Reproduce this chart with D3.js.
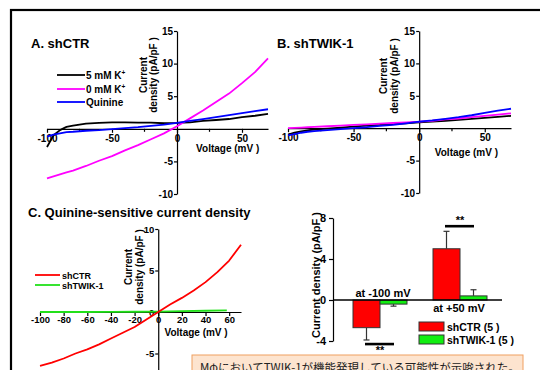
<!DOCTYPE html>
<html>
<head>
<meta charset="utf-8">
<script src="https://cdn.jsdelivr.net/npm/d3@7"></script>
<style>
body { margin: 0; background: #fff; }
svg { display: block; font-family: "Liberation Sans", Arial, sans-serif; }
</style>
</head>
<body>
<script>
// ---- data ----
const volts = [-100, -95, -90, -85, -80, -70, -60, -50, -40, -30, -20, -10, 0, 10, 20, 30, 40, 50, 60, 70];

// A. shCTR (pA/pF)
const ctr5K      = [-2.8, -1.0, -0.2, 0.3, 0.5, 0.8, 0.9, 1.0, 1.0, 0.95, 0.95, 0.85, 0.9, 1.0, 1.2, 1.35, 1.5, 1.8, 2.0, 2.3];
const ctr0K      = [-7.6, -7.3, -7.0, -6.7, -6.4, -5.7, -4.9, -4.2, -3.3, -2.5, -1.6, -0.7, 0.4, 1.6, 2.8, 4.1, 5.4, 7.0, 8.7, 10.8];
const ctrQuinine = [-1.2, -0.9, -0.7, -0.5, -0.45, -0.3, -0.2, -0.05, 0.1, 0.25, 0.45, 0.65, 0.9, 1.2, 1.5, 1.8, 2.1, 2.4, 2.7, 3.0];

// B. shTWIK-1
const twik5K      = [-1.0, -0.7, -0.5, -0.35, -0.2, -0.05, 0.1, 0.25, 0.4, 0.5, 0.65, 0.75, 0.9, 1.0, 1.15, 1.3, 1.45, 1.6, 1.75, 1.9];
const twik0K      = [0.0, 0.05, 0.1, 0.15, 0.2, 0.3, 0.4, 0.5, 0.6, 0.7, 0.8, 0.9, 1.0, 1.15, 1.35, 1.5, 1.7, 1.9, 2.1, 2.3];
const twikQuinine = [-1.1, -0.9, -0.7, -0.55, -0.45, -0.3, -0.15, 0.0, 0.15, 0.35, 0.5, 0.75, 1.0, 1.2, 1.45, 1.7, 2.0, 2.35, 2.7, 3.0];

// C. Quinine-sensitive current density
const voltsC   = [-100, -90, -80, -70, -60, -50, -40, -30, -20, -10, 0, 10, 20, 30, 40, 50, 60, 70];
const sensCTR  = [-6.5, -6.1, -5.6, -5.0, -4.5, -3.9, -3.2, -2.5, -1.8, -0.9, 0.0, 0.9, 1.7, 2.6, 3.6, 4.8, 6.2, 8.1];
const voltsC2  = [-100, -80, -60, -40, -20, 0, 20, 40, 58];
const sensTWIK = [0.0, 0.0, 0.0, 0.02, 0.03, 0.05, 0.1, 0.15, 0.2];

// D. bar chart
const barGroups = ["at -100 mV", "at +50 mV"];
const barSeries = ["shCTR (5 )", "shTWIK-1 (5 )"];
const barMeans  = [[-2.7, -0.4], [5.0, 0.4]];
const barErrors = [[1.2, 0.2], [1.7, 0.6]];
const sigLevels = [-4.3, 7.2];

const ivTicksAB = [-100, -50, 0, 50];
const ivMinorAB = [-75, -25, 25];
const ivYTicksAB = [-10, -5, 5, 10, 15];
const ivTicksC = [-100, -80, -60, -40, -20, 0, 20, 40, 60];
const ivYTicksC = [-5, 0, 5, 10];
const barYTicks = [-4, 0, 4, 8];

const svg = d3.select("body").append("svg")
	.attr("width", 540)
	.attr("height", 370);

// outer frame
svg.append("rect")
	.attr("x", 11).attr("y", 10)
	.attr("width", 600).attr("height", 400)
	.attr("fill", "none").attr("stroke", "#000").attr("stroke-width", 2.2);

// plain hyphen minus like the original figure
const fmt = d => String(d);

function styleAxis(g, size) {
	g.attr("font-family", "Liberation Sans, Arial, sans-serif")
	 .attr("font-weight", "bold")
	 .attr("font-size", size);
	g.selectAll("path, line").attr("stroke", "#000").attr("stroke-width", 1.2);
}

function ivPanel(p) {
	let x = d3.scaleLinear().domain([-100, 70]).range(p.xr);
	let y = d3.scaleLinear().domain(p.yd).range(p.yr);
	let g = svg.append("g");

	// x axis through y = 0
	let ax = g.append("g")
		.attr("transform", `translate(0,${y(0)})`)
		.call(d3.axisBottom(x).tickValues(p.xticks).tickFormat(fmt).tickSize(4).tickPadding(p.xpad).tickSizeOuter(0));
	styleAxis(ax, p.fs);
	if (p.minor) {
		ax.selectAll(".minor").data(p.minor).enter().append("line")
			.attr("x1", d => x(d)).attr("x2", d => x(d))
			.attr("y1", 0).attr("y2", 3)
			.attr("stroke", "#000").attr("stroke-width", 1.2);
	}

	// y axis through x = 0
	let ay = g.append("g")
		.attr("transform", `translate(${x(0)},0)`)
		.call(d3.axisLeft(y).tickValues(p.yticks).tickFormat(fmt).tickSize(3).tickPadding(1).tickSizeOuter(0));
	styleAxis(ay, p.fs);

	// axis titles
	let cy = p.labelY;
	g.append("text")
		.attr("transform", `translate(${x(0) - p.labelDx[0]},${cy}) rotate(-90)`)
		.attr("text-anchor", "middle").attr("font-weight", "bold").attr("font-size", 10)
		.text("Current");
	g.append("text")
		.attr("transform", `translate(${x(0) - p.labelDx[1]},${cy}) rotate(-90)`)
		.attr("text-anchor", "middle").attr("font-weight", "bold").attr("font-size", 10)
		.text("density (pA/pF )");
	g.append("text")
		.attr("x", x(p.voltLabel[0])).attr("y", y(0) + p.voltLabel[1])
		.attr("text-anchor", "middle").attr("font-weight", "bold").attr("font-size", 10)
		.text("Voltage (mV )");

	// traces
	let line = d3.line().x(d => x(d[0])).y(d => y(d[1]));
	p.series.forEach(function(s) {
		g.append("path")
			.datum(d3.zip(s.v, s.i))
			.attr("d", line)
			.attr("fill", "none")
			.attr("stroke", s.color)
			.attr("stroke-width", 1.8)
			.attr("stroke-linejoin", "round");
	});

	// title
	g.append("text")
		.attr("x", p.title[1]).attr("y", p.title[2])
		.attr("font-weight", "bold").attr("font-size", 13)
		.text(p.title[0]);
	return g;
}

// Panel A
ivPanel({
	xr: [47, 268], yd: [-10, 15], yr: [194, 31],
	xticks: ivTicksAB, minor: ivMinorAB, yticks: ivYTicksAB, xpad: 2, fs: 10,
	labelY: 75, labelDx: [30, 20], voltLabel: [39, 23],
	title: ["A. shCTR", 31, 48],
	series: [
		{v: volts, i: ctr5K, color: "#000"},
		{v: volts, i: ctr0K, color: "#ff00ff"},
		{v: volts, i: ctrQuinine, color: "#0000ff"}
	]
});

// Panel B
ivPanel({
	xr: [288, 511], yd: [-10, 15], yr: [193, 31],
	xticks: ivTicksAB, minor: ivMinorAB, yticks: ivYTicksAB, xpad: 2, fs: 10,
	labelY: 76, labelDx: [32, 21], voltLabel: [36, 28],
	title: ["B. shTWIK-1", 277, 48],
	series: [
		{v: volts, i: twik5K, color: "#000"},
		{v: volts, i: twik0K, color: "#ff00ff"},
		{v: volts, i: twikQuinine, color: "#0000ff"}
	]
});

// Panel C
ivPanel({
	xr: [40, 241], yd: [-10, 10], yr: [395, 229],
	xticks: ivTicksC, minor: null, yticks: ivYTicksC, xpad: 0, fs: 9.5,
	labelY: 267, labelDx: [26, 15], voltLabel: [32, 24],
	title: ["C. Quinine-sensitive current density", 28, 217],
	series: [
		{v: voltsC2, i: sensTWIK, color: "#22e01a"},
		{v: voltsC, i: sensCTR, color: "#ff0000"}
	]
});

// legend A
const legA = [["5 mM K", "#000", 75], ["0 mM K", "#ff00ff", 89], ["Quinine", "#0000ff", 102]];
legA.forEach(function(d) {
	svg.append("line").attr("x1", 57).attr("x2", 85).attr("y1", d[2]).attr("y2", d[2])
		.attr("stroke", d[1]).attr("stroke-width", 1.8);
	let t = svg.append("text").attr("x", 86).attr("y", d[2] + 4)
		.attr("font-weight", "bold").attr("font-size", 10).text(d[0]);
	if (d[0] !== "Quinine")
		t.append("tspan").attr("font-size", 6.5).attr("dy", -4).text("+");
});

// legend C
const legC = [["shCTR", "#ff0000", 275], ["shTWIK-1", "#22e01a", 285]];
legC.forEach(function(d) {
	svg.append("line").attr("x1", 35).attr("x2", 60).attr("y1", d[2]).attr("y2", d[2])
		.attr("stroke", d[1]).attr("stroke-width", 1.8);
	svg.append("text").attr("x", 62).attr("y", d[2] + 3.5)
		.attr("font-weight", "bold").attr("font-size", 9).text(d[0]);
});

// ---- Panel D: bar chart ----
const bx = d3.scaleBand().domain(barGroups).range([340, 500]).paddingInner(0.325).paddingOuter(0.1625);
const bs = d3.scaleBand().domain(barSeries).range([0, bx.bandwidth()]);
const by = d3.scaleLinear().domain([-4, 8]).range([341, 218]);
const barColors = d3.scaleOrdinal().domain(barSeries).range(["#ff0000", "#11ee11"]);

const gd = svg.append("g");
const ayD = gd.append("g")
	.attr("transform", `translate(333,0)`)
	.call(d3.axisLeft(by).tickValues(barYTicks).tickFormat(fmt).tickSize(4).tickPadding(3).tickSizeOuter(0));
styleAxis(ayD, 11);

gd.append("text")
	.attr("transform", `translate(320,275) rotate(-90)`)
	.attr("text-anchor", "middle").attr("font-weight", "bold").attr("font-size", 11)
	.text("Current  density (pA/pF )");

const barData = [];
barGroups.forEach(function(gname, gi) {
	barSeries.forEach(function(sname, si) {
		barData.push({g: gname, s: sname, v: barMeans[gi][si], e: barErrors[gi][si]});
	});
});

// error whiskers (outward only)
barData.forEach(function(d) {
	let cx = bx(d.g) + bs(d.s) + bs.bandwidth() / 2;
	let end = d.v >= 0 ? d.v + d.e : d.v - d.e;
	gd.append("line").attr("x1", cx).attr("x2", cx).attr("y1", by(d.v)).attr("y2", by(end))
		.attr("stroke", "#333").attr("stroke-width", 1.2);
	gd.append("line").attr("x1", cx - 3).attr("x2", cx + 3).attr("y1", by(end)).attr("y2", by(end))
		.attr("stroke", "#333").attr("stroke-width", 1.2);
});

gd.selectAll("rect.bar")
	.data(barData)
	.enter()
	.append("rect")
	.attr("class", "bar")
	.attr("x", d => bx(d.g) + bs(d.s))
	.attr("width", bs.bandwidth())
	.attr("y", d => by(Math.max(0, d.v)))
	.attr("height", d => Math.abs(by(d.v) - by(0)))
	.attr("fill", d => barColors(d.s))
	.attr("stroke", "#333")
	.attr("stroke-width", 1);

// x axis line of bar chart
gd.append("line").attr("x1", 333).attr("x2", 502).attr("y1", by(0)).attr("y2", by(0))
	.attr("stroke", "#000").attr("stroke-width", 1.4);

// group labels
gd.append("text").attr("x", bx(barGroups[0]) + bx.bandwidth() / 2 + 3).attr("y", 297)
	.attr("text-anchor", "middle").attr("font-weight", "bold").attr("font-size", 11)
	.text(barGroups[0]);
gd.append("text").attr("x", bx(barGroups[1]) + bx.bandwidth() / 2 - 1).attr("y", 312)
	.attr("text-anchor", "middle").attr("font-weight", "bold").attr("font-size", 11)
	.text(barGroups[1]);

// significance marks
barGroups.forEach(function(gname, gi) {
	let cx = bx(gname) + bx.bandwidth() / 2;
	let yy = by(sigLevels[gi]);
	gd.append("line").attr("x1", cx - 15).attr("x2", cx + 14).attr("y1", yy).attr("y2", yy)
		.attr("stroke", "#000").attr("stroke-width", 2.6);
	gd.append("text").attr("x", cx).attr("y", sigLevels[gi] < 0 ? yy + 10 : yy - 2)
		.attr("text-anchor", "middle").attr("font-weight", "bold").attr("font-size", 11)
		.text("**");
});

// legend D
barSeries.forEach(function(s, i) {
	let yy = 322 + i * 13;
	gd.append("rect").attr("x", 419).attr("y", yy).attr("width", 25).attr("height", 9)
		.attr("fill", barColors(s)).attr("stroke", "#333").attr("stroke-width", 1);
	gd.append("text").attr("x", 447).attr("y", yy + 9)
		.attr("font-weight", "bold").attr("font-size", 10.5).text(s);
});

// note box
svg.append("rect")
	.attr("x", 192).attr("y", 355).attr("width", 331).attr("height", 30)
	.attr("fill", "#fde4cf").attr("stroke", "#f0a060").attr("stroke-width", 1);
svg.append("text")
	.attr("x", 200).attr("y", 372)
	.attr("font-family", "Noto Sans CJK JP, sans-serif").attr("font-size", 11.5)
	.attr("fill", "#222")
	.text("MφにおいてTWIK-1が機能発現している可能性が示唆された。");
</script>
</body>
</html>
